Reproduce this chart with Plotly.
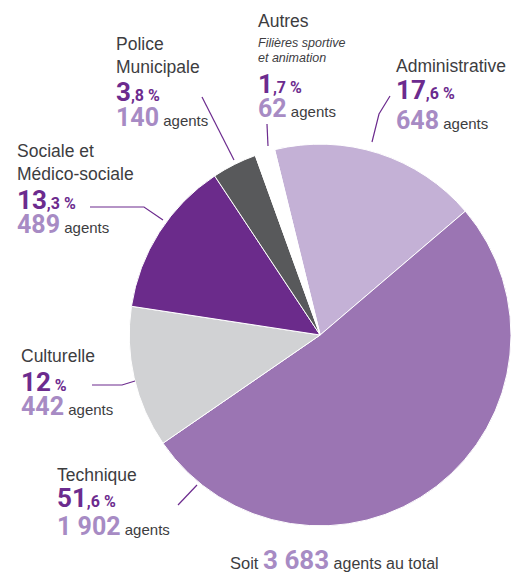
import plotly.graph_objects as go

# ---- data ----
categories = ["Administrative", "Technique", "Culturelle",
              "Sociale et Médico-sociale", "Police Municipale", "Autres"]
agents = [648, 1902, 442, 489, 140, 62]
label_lines = [["Administrative"], ["Technique"], ["Culturelle"],
               ["Sociale et", "Médico-sociale"], ["Police", "Municipale"], ["Autres"]]
sub_lines = [[], [], [], [], [], ["Filières sportive", "et animation"]]
total_prefix = "Soit"
total_suffix = "agents au total"

colors = ["#c4b1d6", "#9b75b3", "#d1d2d4", "#6b2b8b", "#58595b", "#ffffff"]

W, H = 511, 574
PCT_C = "#6c2b8e"
NUM_C = "#a78bc4"
TXT_C = "#3d3d3f"
NUMF = "Roboto,Liberation Sans,Arial,sans-serif"
SANS = "Liberation Sans,Arial,Helvetica,sans-serif"

total = sum(agents)


def fmt_int(n):
    return f"{n:,}".replace(",", " ")


def pct_parts(v):
    p = round(v / total * 100, 1)
    ip = int(p)
    dec = int(round((p - ip) * 10))
    return str(ip), ("," + str(dec) if dec else "")


def px(x):
    return x / W


def py(y):
    return 1 - y / H


dom_w = (1 - 0.253) * W
dom_h = dom_w / H
yc = py(335)

fig = go.Figure()
fig.add_trace(go.Pie(
    labels=categories, values=agents, sort=False, direction="clockwise",
    rotation=-13.8, marker=dict(colors=colors, line=dict(color="white", width=1)),
    textinfo="none", hoverinfo="none", showlegend=False,
    domain=dict(x=[0.253, 1.0], y=[yc - dom_h / 2, yc + dom_h / 2]),
))

# label block positions: (left x, [label line centers], sub line centers, pct center, agents center)
blocks = [
    (396, [66], [], 90, 121),
    (57, [475], [], 498, 526),
    (21, [356], [], 382, 406),
    (17, [151, 174], [], 200, 224),
    (116, [44, 67], [], 92, 118),
    (258, [21.5], [43, 58], 84, 108),
]

ann = []
for i, (x0, lys, sys_, pcy, agy) in enumerate(blocks):
    for t, yy in zip(label_lines[i], lys):
        ann.append(dict(x=px(x0 - 2), y=py(yy), text=t,
                        font=dict(family=SANS, size=17.5, color=TXT_C)))
    for t, yy in zip(sub_lines[i], sys_):
        ann.append(dict(x=px(x0 - 2), y=py(yy), text=f"<i>{t}</i>",
                        font=dict(family=SANS, size=12.5, color=TXT_C)))
    ip, dp = pct_parts(agents[i])
    ann.append(dict(x=px(x0 - 2), y=py(pcy),
                    text=f"<b>{ip}<span style='font-size:16px'>{dp} %</span></b>",
                    font=dict(family=NUMF, size=26, color=PCT_C)))
    ann.append(dict(x=px(x0 - 2), y=py(agy),
                    text=f"<b>{fmt_int(agents[i])}</b><span style='font-family:{SANS};font-size:15px;color:{TXT_C}'> agents</span>",
                    font=dict(family=NUMF, size=25, color=NUM_C)))

ann.append(dict(x=px(228), y=py(560),
                text=f"<span style='font-family:{SANS};font-size:16.5px;color:{TXT_C}'>{total_prefix} </span>"
                     f"<b>{fmt_int(total)}</b>"
                     f"<span style='font-family:{SANS};font-size:16px;color:{TXT_C}'> {total_suffix}</span>",
                font=dict(family=NUMF, size=26, color=NUM_C)))

for a in ann:
    a.update(xref="paper", yref="paper", xanchor="left", yanchor="middle",
             showarrow=False, align="left")

# leader lines (pixel coords)
leaders = [
    [(390, 96), (379, 114), (372, 142)],
    [(178, 505), (197, 485)],
    [(92, 385), (122, 385), (135, 381)],
    [(90, 207), (144, 207), (163, 220)],
    [(202, 97), (234, 160)],
    [(267, 124), (268, 146)],
]
shapes = []
for pts in leaders:
    path = "M " + " L ".join(f"{px(x):.5f},{py(y):.5f}" for x, y in pts)
    shapes.append(dict(type="path", path=path, xref="paper", yref="paper",
                       line=dict(color=PCT_C, width=1.2)))

fig.update_layout(
    width=W, height=H, margin=dict(l=0, r=0, t=0, b=0),
    paper_bgcolor="white", plot_bgcolor="white",
    annotations=ann, shapes=shapes,
)

fig.write_html("out.html", config={"displayModeBar": False},
               post_script="document.body.style.margin='0';document.body.style.padding='0';")
